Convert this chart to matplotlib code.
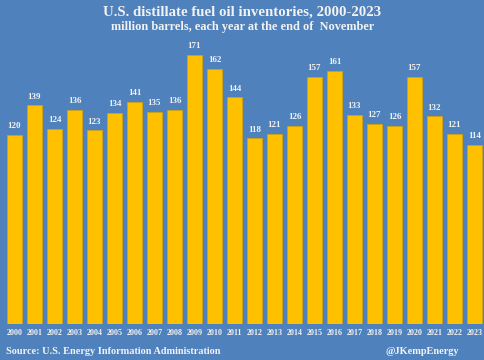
import matplotlib
matplotlib.use("Agg")
import matplotlib.pyplot as plt

years = [str(y) for y in range(2000, 2024)]
values = [120, 139, 124, 136, 123, 134, 141, 135, 136, 171, 162, 144,
          118, 121, 126, 157, 161, 133, 127, 126, 157, 132, 121, 114]

bg = "#4F81BD"
bar_color = "#FFC000"
txt = "#F2F2F2"
font = ["Liberation Serif", "DejaVu Serif"]

fig = plt.figure(figsize=(4.85, 3.6), dpi=100, facecolor=bg)
ax = fig.add_axes([4.5/485, 1-323.5/360, 480/485, 283.5/360])
ax.set_facecolor(bg)
x = list(range(len(years)))
ax.bar(x, values, width=0.75, color=bar_color, edgecolor="#D9A400", linewidth=0.5)
for xi, v in zip(x, values):
    ax.text(xi, v + 3, str(v), ha="center", va="bottom", fontsize=6.5,
            color=txt, fontweight="bold", family=font)
ax.set_xlim(-0.5, len(years) - 0.5)
ax.set_ylim(0, 180.6)
ax.set_yticks([])
ax.set_xticks(x)
ax.set_xticklabels(years, fontsize=5.8, color=txt, fontweight="bold", family=font)
ax.tick_params(axis="x", length=0, pad=4)
for s in ax.spines.values():
    s.set_visible(False)

fig.text(0.5, 1-12/360, "U.S. distillate fuel oil inventories, 2000-2023", ha="center",
         va="center", fontsize=10.7, color=txt, fontweight="bold", family=font)
fig.text(0.5, 1-27/360, "million barrels, each year at the end of  November", ha="center",
         va="center", fontsize=8.8, color=txt, fontweight="bold", family=font)
fig.text(6/485, 1-352/360, "Source: U.S. Energy Information Administration", ha="left",
         va="center", fontsize=7.4, color=txt, fontweight="bold", family=font)
fig.text(459/485, 1-352/360, "@JKempEnergy", ha="right",
         va="center", fontsize=7.4, color=txt, fontweight="bold", family=font)

fig.savefig("out.png", dpi=100, facecolor=bg)
